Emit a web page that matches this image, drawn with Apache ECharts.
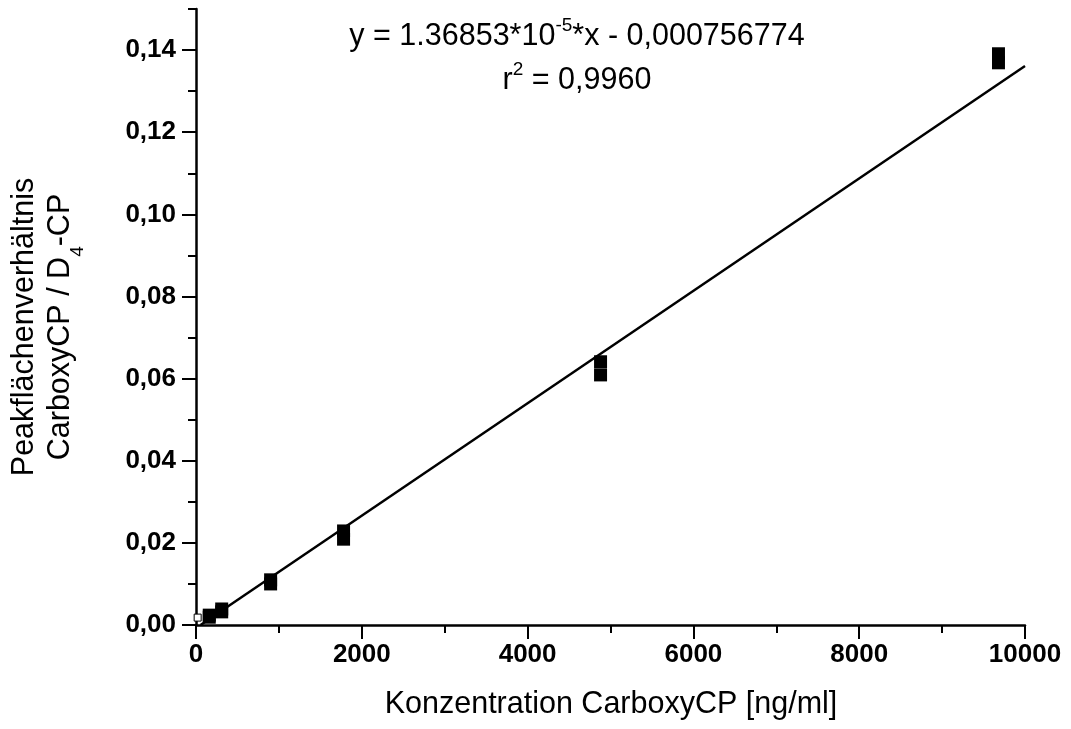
<!DOCTYPE html>
<html>
<head>
<meta charset="utf-8">
<script src="https://cdn.jsdelivr.net/npm/echarts@6/dist/echarts.min.js"></script>
<style>
html,body{margin:0;padding:0;background:#fff;}
#chart{width:1071px;height:729px;}
</style>
</head>
<body>
<div id="chart"></div>
<script>
// Measured calibration points (two replicates per concentration)
const concentrations = [160, 160, 310, 310, 900, 900, 1780, 1780, 4880, 4880, 9680, 9680];
const ratios = [0.0024, 0.0019, 0.0039, 0.0032, 0.0110, 0.0100, 0.0229, 0.0209, 0.0641, 0.0609, 0.1391, 0.1369];
// Blank point (hollow marker at origin)
const blankX = [20];
const blankY = [0.0018];
// Regression line end points
const fitX = [55, 10000];
const fitY = [0.0, 0.1361];
// Tick labels
const xTickLabels = ['0', '2000', '4000', '6000', '8000', '10000'];
const yTickLabels = ['0,00', '0,02', '0,04', '0,06', '0,08', '0,10', '0,12', '0,14'];
const equationLine1 = 'y = 1.36853*10';
const equationSup = '-5';
const equationLine1b = '*x - 0,000756774';
const r2Text = ' = 0,9960';

const FONT = "'Liberation Sans', Arial, sans-serif";
const TS = 30.5;
const chart = echarts.init(document.getElementById('chart'), null, {renderer: 'canvas'});

const gridPos = {left: 196, right: 46, bottom: 104};
const richMain = {
  a: {fontSize: TS, fontFamily: FONT, color: '#000', lineHeight: 36, verticalAlign: 'bottom'},
  s: {fontSize: 19, fontFamily: FONT, color: '#000', lineHeight: 36, verticalAlign: 'top'}
};
const option = {
  backgroundColor: '#ffffff',
  animation: false,
  grid: [
    Object.assign({top: 9}, gridPos),
    Object.assign({top: 50.07}, gridPos)
  ],
  xAxis: [
    {
      type: 'value', gridIndex: 0, min: 0, max: 10000, interval: 2000,
      axisLine: {show: true, onZero: false, lineStyle: {color: '#000', width: 2.5}},
      axisTick: {show: true, length: 14, lineStyle: {color: '#000', width: 2}},
      minorTick: {show: true, splitNumber: 2, length: 8, lineStyle: {color: '#000', width: 2}},
      splitLine: {show: false},
      axisLabel: {
        margin: 17, color: '#000', fontFamily: FONT, fontWeight: 'bold', fontSize: 26,
        formatter: function (v) { return xTickLabels[Math.round(v / 2000)]; }
      }
    },
    {
      type: 'value', gridIndex: 1, min: 0, max: 10000, show: false
    }
  ],
  yAxis: [
    {
      type: 'value', gridIndex: 0, min: 0, max: 0.15, interval: 0.01,
      axisLine: {show: true, onZero: false, lineStyle: {color: '#000', width: 2.5}},
      axisTick: {show: true, length: 8, lineStyle: {color: '#000', width: 2}},
      splitLine: {show: false},
      axisLabel: {show: false}
    },
    {
      type: 'value', gridIndex: 1, min: 0, max: 0.14, interval: 0.02,
      axisLine: {show: false},
      axisTick: {show: true, length: 14, lineStyle: {color: '#000', width: 2}},
      splitLine: {show: false},
      axisLabel: {
        margin: 20, color: '#000', fontFamily: FONT, fontWeight: 'bold', fontSize: 26,
        formatter: function (v) { return yTickLabels[Math.round(v / 0.02)]; }
      }
    }
  ],
  series: [
    {
      type: 'line', xAxisIndex: 0, yAxisIndex: 0,
      data: fitX.map(function (x, i) { return [x, fitY[i]]; }),
      showSymbol: false, symbol: 'none',
      lineStyle: {color: '#000', width: 2.5},
      z: 2
    },
    {
      type: 'scatter', xAxisIndex: 0, yAxisIndex: 0,
      data: concentrations.map(function (x, i) { return [x, ratios[i]]; }),
      symbol: 'rect', symbolSize: 13,
      itemStyle: {color: '#000', opacity: 1},
      z: 3
    },
    {
      type: 'scatter', xAxisIndex: 0, yAxisIndex: 0,
      data: blankX.map(function (x, i) { return [x, blankY[i]]; }),
      symbol: 'rect', symbolSize: 7,
      itemStyle: {color: '#fff', borderColor: '#000', borderWidth: 1, opacity: 1},
      z: 4
    }
  ],
  graphic: [
    {
      type: 'text', x: 577, y: 34,
      style: {
        text: '{a|' + equationLine1 + '}{s|' + equationSup + '}{a|' + equationLine1b + '}',
        align: 'center', verticalAlign: 'middle',
        rich: richMain
      }
    },
    {
      type: 'text', x: 577, y: 78,
      style: {
        text: '{a|r}{s|2}{a|' + r2Text + '}',
        align: 'center', verticalAlign: 'middle',
        rich: richMain
      }
    },
    {
      type: 'text', x: 611, y: 705,
      style: {
        text: 'Konzentration CarboxyCP [ng/ml]',
        align: 'center', verticalAlign: 'middle',
        fontSize: TS, fontFamily: FONT, fill: '#000'
      }
    },
    {
      type: 'text', x: 25, y: 327, rotation: Math.PI / 2,
      style: {
        text: 'Peakflächenverhältnis',
        align: 'center', verticalAlign: 'middle',
        fontSize: TS, fontFamily: FONT, fill: '#000'
      }
    },
    {
      type: 'text', x: 66, y: 327, rotation: Math.PI / 2,
      style: {
        text: '{a|CarboxyCP / D}{s|4}{a|-CP}',
        align: 'center', verticalAlign: 'middle',
        rich: {
          a: {fontSize: TS, fontFamily: FONT, color: '#000', lineHeight: 42, verticalAlign: 'top'},
          s: {fontSize: 19, fontFamily: FONT, color: '#000', lineHeight: 42, verticalAlign: 'bottom'}
        }
      }
    }
  ]
};
chart.setOption(option);
</script>
</body>
</html>
